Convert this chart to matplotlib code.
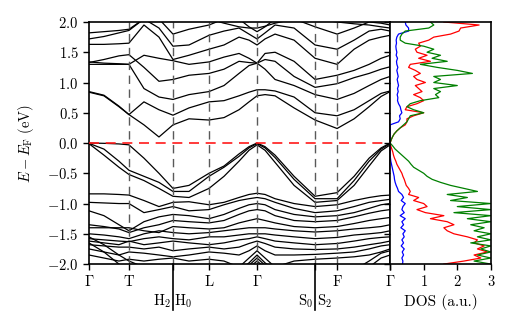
import numpy as np
import matplotlib
matplotlib.use('Agg')
import matplotlib.pyplot as plt
import matplotlib.transforms as mtransforms

plt.rcParams['mathtext.fontset'] = 'cm'
plt.rcParams['font.family'] = 'serif'
plt.rcParams['font.size'] = 10.5

# k-path (arbitrary distance units)
kpath = [0, 15, 30, 40, 55, 70, 84, 100, 120, 135, 150, 160, 168, 176, 186, 205, 226, 248, 265, 280, 292, 301]
kticks = [0, 40, 84, 120, 168, 226, 248, 301]
klabels = [r'$\Gamma$', r'$\mathrm{T}$', '', r'$\mathrm{L}$', r'$\Gamma$', '', r'$\mathrm{F}$', r'$\Gamma$']
kbreaks = [84, 226]
break_labels = [(r'$\mathrm{H}_2$', r'$\mathrm{H}_0$'), (r'$\mathrm{S}_0$', r'$\mathrm{S}_2$')]

cond_bands = [
    [0.84, 0.78, 0.60, 0.47, 0.30, 0.10, 0.30, 0.40, 0.38, 0.42, 0.55, 0.68, 0.78, 0.80, 0.78, 0.58, 0.38, 0.24, 0.40, 0.60, 0.77, 0.85],
    [0.85, 0.79, 0.61, 0.47, 0.68, 0.55, 0.46, 0.58, 0.68, 0.70, 0.78, 0.84, 0.88, 0.88, 0.86, 0.76, 0.50, 0.45, 0.55, 0.70, 0.82, 0.86],
    [1.30, 1.30, 1.30, 1.30, 0.90, 0.76, 0.72, 0.80, 0.85, 0.95, 1.15, 1.28, 1.32, 1.22, 1.05, 0.95, 0.80, 0.72, 0.82, 0.95, 1.05, 1.10],
    [1.33, 1.38, 1.44, 1.46, 1.25, 1.02, 1.05, 1.12, 1.15, 1.22, 1.35, 1.33, 1.32, 1.38, 1.35, 1.10, 0.92, 0.98, 1.08, 1.15, 1.22, 1.26],
    [1.34, 1.32, 1.31, 1.30, 1.45, 1.40, 1.36, 1.30, 1.34, 1.42, 1.48, 1.40, 1.32, 1.48, 1.50, 1.35, 1.05, 1.12, 1.20, 1.30, 1.40, 1.45],
    [1.63, 1.63, 1.64, 1.65, 1.95, 1.75, 1.38, 1.45, 1.55, 1.62, 1.75, 1.70, 1.62, 1.72, 1.80, 1.70, 1.40, 1.30, 1.55, 1.70, 1.75, 1.78],
    [1.72, 1.76, 1.82, 1.86, 2.05, 1.90, 1.60, 1.62, 1.78, 1.85, 1.90, 1.80, 1.72, 1.82, 1.95, 1.90, 1.62, 1.55, 1.70, 1.85, 1.88, 1.85],
    [1.82, 1.84, 1.86, 1.88, 2.05, 2.05, 1.80, 1.88, 1.95, 2.05, 2.05, 1.92, 1.84, 1.92, 2.05, 2.05, 1.92, 1.80, 1.90, 2.00, 1.98, 1.95],
    [2.10, 2.10, 2.10, 2.10, 2.10, 2.10, 2.10, 2.10, 2.05, 1.98, 1.92, 1.90, 1.90, 1.93, 1.98, 2.05, 2.05, 2.00, 1.97, 1.95, 1.92, 1.90],
]

val_bands = [
    [0.00, -0.005, -0.015, -0.03, -0.25, -0.50, -0.75, -0.70, -0.50, -0.38, -0.18, -0.06, 0.00, -0.06, -0.20, -0.55, -0.88, -0.82, -0.55, -0.25, -0.08, 0.00],
    [-0.005, -0.10, -0.30, -0.45, -0.55, -0.65, -0.80, -0.80, -0.55, -0.40, -0.22, -0.08, -0.01, -0.08, -0.24, -0.60, -0.92, -0.92, -0.62, -0.30, -0.10, -0.01],
    [-0.01, -0.20, -0.40, -0.52, -0.62, -0.75, -0.88, -0.90, -0.75, -0.55, -0.30, -0.12, -0.03, -0.12, -0.32, -0.70, -0.98, -0.95, -0.70, -0.38, -0.13, -0.03],
    [-0.84, -0.84, -0.85, -0.86, -0.95, -1.05, -0.98, -0.97, -1.02, -0.98, -0.90, -0.85, -0.83, -0.85, -0.92, -1.00, -1.05, -1.02, -0.95, -0.90, -0.87, -0.86],
    [-0.98, -0.99, -1.00, -1.00, -1.15, -1.10, -1.05, -1.12, -1.10, -1.02, -0.95, -0.92, -0.90, -0.92, -0.98, -1.08, -1.15, -1.12, -1.05, -0.98, -0.95, -0.93],
    [-1.12, -1.20, -1.35, -1.45, -1.30, -1.22, -1.18, -1.20, -1.25, -1.18, -1.08, -1.02, -1.00, -1.02, -1.10, -1.18, -1.22, -1.20, -1.15, -1.08, -1.02, -1.00],
    [-1.35, -1.38, -1.42, -1.48, -1.40, -1.35, -1.28, -1.30, -1.32, -1.28, -1.18, -1.12, -1.10, -1.12, -1.20, -1.28, -1.30, -1.28, -1.22, -1.16, -1.12, -1.10],
    [-1.40, -1.40, -1.40, -1.40, -1.45, -1.48, -1.38, -1.40, -1.42, -1.40, -1.32, -1.28, -1.25, -1.28, -1.32, -1.38, -1.40, -1.38, -1.33, -1.28, -1.25, -1.23],
    [-1.50, -1.52, -1.55, -1.58, -1.50, -1.45, -1.48, -1.50, -1.48, -1.45, -1.42, -1.40, -1.40, -1.40, -1.42, -1.45, -1.47, -1.45, -1.42, -1.40, -1.38, -1.35],
    [-1.58, -1.60, -1.62, -1.63, -1.58, -1.55, -1.58, -1.60, -1.55, -1.55, -1.52, -1.50, -1.50, -1.50, -1.52, -1.55, -1.58, -1.56, -1.52, -1.50, -1.48, -1.45],
    [-1.62, -1.65, -1.68, -1.62, -1.68, -1.65, -1.62, -1.65, -1.68, -1.65, -1.60, -1.58, -1.55, -1.58, -1.62, -1.65, -1.68, -1.66, -1.62, -1.58, -1.56, -1.55],
    [-1.68, -1.70, -1.72, -1.72, -1.75, -1.72, -1.78, -1.75, -1.72, -1.75, -1.72, -1.66, -1.62, -1.66, -1.72, -1.75, -1.76, -1.75, -1.72, -1.68, -1.65, -1.62],
    [-1.75, -1.80, -1.85, -1.80, -1.82, -1.85, -1.88, -1.85, -1.80, -1.82, -1.85, -1.78, -1.70, -1.78, -1.85, -1.85, -1.84, -1.82, -1.80, -1.75, -1.70, -1.68],
    [-1.85, -1.90, -1.95, -1.92, -1.95, -1.92, -1.90, -1.95, -1.92, -1.95, -2.05, -1.90, -1.78, -1.90, -2.05, -1.95, -1.92, -1.90, -1.88, -1.85, -1.80, -1.75],
    [-1.55, -1.68, -1.85, -1.95, -2.05, -2.10, -2.10, -2.10, -2.10, -2.10, -2.10, -2.10, -2.10, -2.10, -2.10, -2.10, -2.10, -2.10, -2.10, -2.10, -2.10, -2.10],
    [-1.65, -1.80, -2.00, -2.10, -2.10, -2.10, -2.10, -2.10, -2.10, -2.10, -2.10, -2.10, -2.10, -2.10, -2.10, -2.10, -2.10, -2.10, -2.10, -2.10, -2.10, -2.10],
    [-2.10, -2.10, -2.10, -2.10, -2.10, -2.10, -2.10, -2.10, -2.10, -2.10, -2.10, -1.98, -1.85, -1.98, -2.10, -2.10, -2.10, -2.10, -2.10, -2.10, -2.10, -2.10],
    [-2.10, -2.10, -2.10, -2.10, -2.10, -2.10, -2.10, -2.10, -2.10, -2.10, -2.10, -2.02, -1.90, -2.02, -2.10, -2.10, -2.10, -2.10, -2.10, -2.10, -2.10, -2.10],
    [-2.10, -2.10, -2.10, -2.10, -2.10, -2.10, -2.10, -2.10, -2.10, -2.10, -2.10, -2.06, -1.95, -2.06, -2.10, -2.10, -2.10, -2.10, -2.10, -2.10, -2.10, -2.10],
    [-2.10, -2.10, -2.10, -2.10, -2.10, -2.10, -2.10, -2.10, -2.10, -2.10, -2.10, -2.10, -2.10, -2.10, -2.10, -2.10, -2.10, -2.10, -2.10, -1.95, -1.82, -1.78],
    [-2.10, -2.10, -2.10, -2.10, -2.10, -2.10, -2.10, -2.10, -2.10, -2.10, -2.10, -2.10, -2.10, -2.10, -2.10, -2.10, -2.10, -2.10, -2.10, -2.05, -1.90, -1.85],
]

# DOS, sampled every 0.05 eV from +2.0 down to -2.0
dos_energy = np.linspace(2.0, -2.0, 81)
dos_blue = [0.45, 0.47, 0.55, 0.55, 0.25, 0.20, 0.18, 0.19, 0.17, 0.18, 0.20, 0.18, 0.22, 0.19, 0.20, 0.23, 0.20, 0.22, 0.24, 0.21,
            0.23, 0.25, 0.22, 0.24, 0.21, 0.23, 0.22, 0.25, 0.30, 0.32, 0.35, 0.28, 0.30, 0.25, 0.00, 0.00, 0.00, 0.00, 0.00, 0.00,
            0.00, 0.00, 0.00, 0.00, 0.00, 0.01, 0.02, 0.04, 0.06, 0.08, 0.10, 0.12, 0.13, 0.15, 0.18, 0.22, 0.25, 0.35, 0.40, 0.33,
            0.45, 0.38, 0.35, 0.42, 0.30, 0.45, 0.35, 0.40, 0.32, 0.45, 0.38, 0.42, 0.35, 0.40, 0.33, 0.42, 0.36, 0.40, 0.35, 0.38, 0.37]
dos_red = [1.60, 2.65, 2.10, 2.05, 1.80, 1.30, 1.15, 0.85, 0.90, 0.75, 0.80, 1.10, 0.85, 1.20, 0.60, 0.55, 0.75, 0.90, 0.70, 0.80,
           1.05, 0.75, 0.85, 0.95, 0.70, 0.90, 1.00, 0.80, 0.50, 0.45, 1.00, 0.70, 0.50, 0.50, 0.45, 0.30, 0.20, 0.12, 0.07, 0.03,
           0.00, 0.02, 0.05, 0.08, 0.10, 0.13, 0.17, 0.20, 0.25, 0.30, 0.35, 0.38, 0.42, 0.45, 0.48, 0.55, 0.60, 0.55, 0.85, 0.70,
           1.00, 1.10, 0.80, 1.05, 1.60, 1.20, 1.70, 1.90, 1.60, 1.70, 1.90, 2.30, 2.60, 2.50, 2.80, 2.60, 2.90, 2.50, 2.70, 2.20, 1.60]
dos_green = [1.20, 1.30, 1.15, 0.45, 0.35, 0.30, 0.30, 0.45, 1.00, 1.30, 1.10, 1.50, 1.25, 1.70, 0.90, 1.40, 2.00, 2.45, 1.30, 1.50,
             1.30, 2.00, 1.30, 1.50, 1.35, 1.45, 0.90, 0.60, 0.50, 0.70, 1.00, 0.60, 0.55, 0.50, 0.40, 0.30, 0.20, 0.12, 0.07, 0.03,
             0.00, 0.08, 0.15, 0.25, 0.35, 0.45, 0.55, 0.62, 0.70, 0.85, 1.00, 1.10, 1.25, 1.50, 1.80, 2.20, 2.60, 1.70, 2.30, 1.80,
             3.00, 2.00, 3.00, 1.90, 3.00, 2.30, 3.00, 2.40, 2.80, 2.50, 3.00, 2.60, 3.00, 2.40, 3.00, 2.70, 3.00, 2.60, 3.00, 2.50, 3.00]

fig = plt.figure(figsize=(5.14, 3.33), dpi=100)
ax1 = fig.add_axes([0.173, 0.207, 0.586, 0.727])
ax2 = fig.add_axes([0.759, 0.207, 0.196, 0.727], sharey=ax1)

for b in cond_bands + val_bands:
    ax1.plot(kpath, b, color='k', lw=0.9)

for k in kticks[1:-1]:
    ax1.axvline(k, color='0.35', lw=1.0, dashes=(6, 4))
ax1.axhline(0, color='#ff1a1a', lw=1.2, dashes=(6, 4), zorder=3)

ax1.set_xlim(0, 301)
ax1.set_ylim(-2, 2)
ax1.set_xticks(kticks)
ax1.set_xticklabels(klabels)
ax1.set_yticks([-2.0, -1.5, -1.0, -0.5, 0.0, 0.5, 1.0, 1.5, 2.0])
ax1.set_yticklabels([r'$-2.0$', r'$-1.5$', r'$-1.0$', r'$-0.5$', r'$0.0$', r'$0.5$', r'$1.0$', r'$1.5$', r'$2.0$'])
ax1.tick_params(axis='x', direction='out', length=4, width=1.0, pad=3)
ax1.tick_params(axis='y', direction='out', length=4, width=1.0)
ax1.set_ylabel(r'$E - E_\mathrm{F}\ \mathrm{(eV)}$', labelpad=8)

# long ticks and split labels at the path breaks
trans = mtransforms.blended_transform_factory(ax1.transData, ax1.transAxes)
for k, (lab_l, lab_r) in zip(kbreaks, break_labels):
    ax1.plot([k, k], [0, -0.19], color='k', lw=1.2, transform=trans, clip_on=False)
    ax1.text(k - 1.5, -0.155, lab_l, transform=trans, ha='right', va='center')
    ax1.text(k + 1.5, -0.155, lab_r, transform=trans, ha='left', va='center')

ax2.plot(dos_blue, dos_energy, color='#0000ff', lw=0.9)
ax2.plot(dos_red, dos_energy, color='#ff0000', lw=0.9)
ax2.plot(dos_green, dos_energy, color='#008000', lw=0.9)
ax2.set_xlim(0, 3)
ax2.set_xticks([0, 1, 2, 3])
ax2.set_xticklabels(['', r'$1$', r'$2$', r'$3$'])
ax2.tick_params(axis='x', direction='out', length=4, width=1.0, pad=3)
ax2.tick_params(axis='y', left=True, direction='out', length=4, width=1.0, labelleft=False)
ax2.set_xlabel('DOS (a.u.)', family=['cmr10', 'DejaVu Serif'], fontsize=11, labelpad=4)

for ax in (ax1, ax2):
    for s in ax.spines.values():
        s.set_linewidth(1.2)

fig.savefig('out.png', dpi=100)
